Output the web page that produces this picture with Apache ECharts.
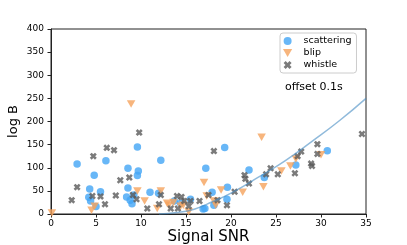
<!DOCTYPE html>
<html>
<head>
<meta charset="utf-8">
<script src="https://cdn.jsdelivr.net/npm/echarts@6/dist/echarts.min.js"></script>
<style>
html,body{margin:0;padding:0;background:#fff;}
#c{width:407px;height:245px;}
</style>
</head>
<body>
<div id="c"></div>
<script>
var xTicks = [0, 5, 10, 15, 20, 25, 30, 35];
var yTicks = [0, 50, 100, 150, 200, 250, 300, 350, 400];

var scattering = [
  [2.9,108],[6.1,115],[4.8,84],[4.3,54],[5.5,48],[4.2,36],[4.4,28],[5.0,16],
  [8.55,99],[8.55,56],[8.4,37],[8.8,30],[9.0,22],[9.2,41],[9.6,145],[12.2,116],
  [9.7,93],[9.6,83],[11.0,47],[11.95,45],[13.7,28],[14.4,23],[15.5,32],[16.9,11],
  [17.2,99],[19.3,144],[22.0,95],[19.6,58],[23.7,79],[17.9,47],[19.55,32],[17.1,12],
  [18.1,19],[27.2,106],[30.7,137]
];
var blip = [
  [0.1,2],[4.5,8],[4.85,17],[8.9,238],[9.6,50],[10.4,28],[12.2,50],[11.8,12],
  [12.9,23],[13.1,19],[13.6,25],[14.4,17],[14.7,19],[15.3,5],[17.0,68],[17.3,39],
  [18.1,28],[18.3,19],[18.9,52],[21.3,47],[23.4,166],[23.6,59],[25.6,93],[26.6,104],
  [27.2,119],[30.0,128]
];
var whistle = [
  [2.3,30],[2.9,58],[4.6,39],[4.7,125],[5.5,38],[6.0,21],[6.2,143],[7.0,138],
  [7.2,40],[7.7,73],[8.7,79],[9.1,41],[9.5,32],[9.8,176],[10.7,12],[12.0,21],
  [12.2,41],[13.3,12],[14.0,39],[14.1,12],[14.5,37],[14.8,28],[15.3,17],[15.5,28],
  [16.5,28],[17.5,41],[18.1,136],[18.5,30],[19.55,19],[20.4,48],[21.5,84],[21.6,76],
  [22.0,66],[23.9,86],[24.4,99],[25.2,86],[27.1,88],[27.4,125],[27.8,135],[28.9,109],
  [29.0,104],[29.6,151],[29.6,130],[34.55,173]
];
var fitCurve = [
  [12,0],[14,3],[16,11],[18,27],[20,45],[23,79],[26,115],[29,157],[32,201],[35,250]
];

var XPATH = 'path://M0,2.6 L2.6,0 L5,2.4 L7.4,0 L10,2.6 L7.6,5 L10,7.4 L7.4,10 L5,7.6 L2.6,10 L0,7.4 L2.4,5 Z';
var TRI_DOWN = 'path://M0,0 L10,0 L5,8.7 Z';
var FONT = 'DejaVu Sans';

var chart = echarts.init(document.getElementById('c'), null, {renderer: 'canvas'});
chart.setOption({
  animation: false,
  backgroundColor: '#fff',
  textStyle: {fontFamily: FONT},
  grid: {left: 51, right: 41, top: 29, bottom: 31, containLabel: false, outerBoundsMode: 'none',
         show: true, borderColor: '#222', borderWidth: 1, backgroundColor: 'transparent'},
  xAxis: {
    type: 'value', min: xTicks[0], max: xTicks[xTicks.length-1], interval: 5,
    name: 'Signal SNR', nameLocation: 'middle', nameGap: 23, nameMoveOverlap: false,
    nameTextStyle: {fontSize: 15, color: '#000', fontFamily: FONT, verticalAlign: 'middle'},
    axisLine: {show: true, lineStyle: {color: '#222', width: 1}},
    axisTick: {show: true, inside: false, length: 3.5, lineStyle: {color: '#222'}},
    axisLabel: {fontSize: 9, color: '#000', margin: 5, fontFamily: FONT},
    splitLine: {show: false}
  },
  yAxis: {
    type: 'value', min: yTicks[0], max: yTicks[yTicks.length-1], interval: 50,
    name: 'log B', nameLocation: 'middle', nameGap: 37, nameRotate: 90, nameMoveOverlap: false,
    nameTextStyle: {fontSize: 13, color: '#000', fontFamily: FONT, verticalAlign: 'middle'},
    axisLine: {show: true, lineStyle: {color: '#222', width: 1}},
    axisTick: {show: true, inside: false, length: 3.5, lineStyle: {color: '#222'}},
    axisLabel: {fontSize: 9, color: '#000', margin: 7, fontFamily: FONT},
    splitLine: {show: false}
  },
  legend: {
    orient: 'vertical', left: 280, top: 33,
    padding: [3, 5, 3, 3], itemGap: 2, itemWidth: 22, itemHeight: 8,
    backgroundColor: '#fff', borderColor: '#ccc', borderWidth: 1, borderRadius: 3,
    textStyle: {fontSize: 9.5, color: '#000', fontFamily: FONT, lineHeight: 10},
    data: [
      {name: 'scattering', icon: 'circle'},
      {name: 'blip', icon: TRI_DOWN},
      {name: 'whistle', icon: XPATH}
    ]
  },
  graphic: [{
    type: 'text', left: 285, top: 82,
    style: {text: 'offset 0.1s', fontSize: 11, fill: '#000', fontFamily: FONT}
  }],
  series: [
    {name: 'scattering', type: 'scatter', data: scattering, symbol: 'circle', symbolSize: 7.5,
     itemStyle: {color: '#42a5f5'}},
    {name: 'blip', type: 'scatter', data: blip, symbol: TRI_DOWN, symbolSize: [8.5, 7.5],
     itemStyle: {color: '#f5a25d'}},
    {name: 'whistle', type: 'scatter', data: whistle, symbol: XPATH, symbolSize: 7,
     itemStyle: {color: '#5a5a5a'}},
    {name: 'fit', type: 'line', data: fitCurve, smooth: true, showSymbol: false, symbol: 'none',
     lineStyle: {color: 'rgba(70,140,195,0.6)', width: 1.5}, z: 3}
  ]
});
</script>
</body>
</html>
